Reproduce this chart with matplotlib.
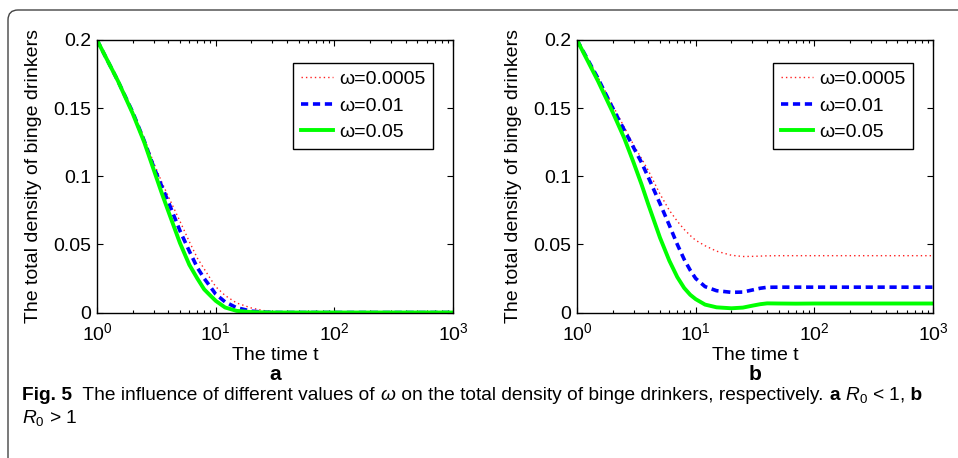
import matplotlib
matplotlib.use("Agg")
import matplotlib.pyplot as plt
from matplotlib.patches import FancyBboxPatch
from matplotlib.ticker import LogLocator, NullFormatter

plt.rcParams['font.family'] = ['Liberation Sans', 'DejaVu Sans']
plt.rcParams['mathtext.fontset'] = 'custom'
plt.rcParams['mathtext.rm'] = 'Liberation Sans'
plt.rcParams['mathtext.it'] = 'Liberation Sans:italic'
plt.rcParams['mathtext.bf'] = 'Liberation Sans:bold'

# time points (log axis)
t = [1, 1.5, 2, 2.5, 3, 3.5, 4, 5, 6, 7, 8, 9, 10, 12, 15, 20, 25, 30, 35, 40, 50, 70,
     100, 200, 500, 1000]

# panel a: R0 < 1
a_w0005 = [0.200, 0.171, 0.148, 0.128, 0.110, 0.096, 0.085, 0.067, 0.052, 0.040,
           0.032, 0.025, 0.019, 0.0125, 0.007, 0.0033, 0.0015, 0.0006, 0.0003, 0.0001,
           0, 0, 0, 0, 0, 0]
a_w001 = [0.200, 0.170, 0.147, 0.126, 0.107, 0.093, 0.081, 0.060, 0.045, 0.033,
          0.025, 0.019, 0.0135, 0.0078, 0.0035, 0.0010, 0.0003, 0.0001, 0, 0,
          0, 0, 0, 0, 0, 0]
a_w005 = [0.200, 0.170, 0.146, 0.125, 0.105, 0.088, 0.074, 0.051, 0.035, 0.025,
          0.017, 0.0125, 0.0086, 0.0037, 0.0012, 0.0003, 0.0001, 0, 0, 0,
          0, 0, 0, 0, 0, 0]

# panel b: R0 > 1
b_w0005 = [0.200, 0.173, 0.152, 0.136, 0.123, 0.113, 0.104, 0.087, 0.075, 0.067,
           0.061, 0.0565, 0.053, 0.049, 0.045, 0.042, 0.0411, 0.0412, 0.0414, 0.0416,
           0.0417, 0.0417, 0.0417, 0.0417, 0.0417, 0.0417]
b_w001 = [0.200, 0.172, 0.150, 0.134, 0.121, 0.110, 0.099, 0.080, 0.064, 0.050,
          0.039, 0.031, 0.025, 0.019, 0.016, 0.0148, 0.015, 0.0165, 0.0178, 0.0185,
          0.0186, 0.0186, 0.0186, 0.0186, 0.0186, 0.0186]
b_w005 = [0.200, 0.170, 0.147, 0.128, 0.110, 0.094, 0.079, 0.055, 0.038, 0.026,
          0.018, 0.013, 0.0098, 0.0058, 0.0038, 0.0031, 0.0036, 0.0050, 0.0061, 0.0067,
          0.0066, 0.0065, 0.0066, 0.0066, 0.0066, 0.0066]

labels = ["ω=0.0005", "ω=0.01", "ω=0.05"]
yticks = [0, 0.05, 0.1, 0.15, 0.2]
ytick_labels = ["0", "0.05", "0.1", "0.15", "0.2"]
panel_names = ["a", "b"]

W, H = 958, 458
fig = plt.figure(figsize=(W / 100, H / 100), dpi=100)

# rounded frame around the figure
frame = FancyBboxPatch((0.08, -1.0), 10.0, 4.48 + 1.0,
                       boxstyle="round,pad=0,rounding_size=0.1",
                       transform=fig.dpi_scale_trans, facecolor="none",
                       edgecolor="#444444", linewidth=1.0)
fig.add_artist(frame)


def draw_panel(left_px, series, name):
    ax = fig.add_axes([left_px / W, 1 - 312.5 / H, 356 / W, 272.5 / H])
    s1, s2, s3 = series
    ax.plot(t, s1, color="#ff2020", lw=1.0, dashes=(1, 2.2), label=labels[0])
    ax.plot(t, s2, color="blue", lw=2.6, dashes=(2, 1.3), label=labels[1])
    ax.plot(t, s3, color="#00ff00", lw=2.8, label=labels[2])
    ax.set_xscale("log")
    ax.set_xlim(1, 1000)
    ax.set_ylim(0, 0.2)
    ax.set_yticks(yticks)
    ax.set_yticklabels(ytick_labels)
    ax.xaxis.set_minor_locator(LogLocator(base=10, subs=range(2, 10), numticks=20))
    ax.xaxis.set_minor_formatter(NullFormatter())
    ax.tick_params(which="both", direction="in", top=True, right=True,
                   labelsize=14, width=0.8)
    ax.tick_params(which="major", length=4, pad=4)
    ax.tick_params(which="minor", length=2.2)
    ax.tick_params(axis="x", which="major", pad=7)
    for sp in ax.spines.values():
        sp.set_linewidth(1.0)
    ax.set_xlabel("The time t", fontsize=14, labelpad=2)
    ax.set_ylabel("The total density of binge drinkers", fontsize=14)
    ax.yaxis.set_label_coords(-0.155, 0.5)
    leg = ax.legend(loc="upper right", bbox_to_anchor=(0.944, 0.916),
                    borderaxespad=0, fancybox=False, framealpha=1,
                    edgecolor="black", fontsize=14, handlelength=1.65,
                    handletextpad=0.3, labelspacing=0.45, borderpad=0.4)
    leg.get_frame().set_linewidth(1.0)
    fig.text((left_px + 178) / W, 1 - 374 / H, name, fontsize=15,
             fontweight="bold", ha="center", va="center")
    return ax


draw_panel(97, (a_w0005, a_w001, a_w005), panel_names[0])
draw_panel(577, (b_w0005, b_w001, b_w005), panel_names[1])

# caption, written piece by piece
renderer = fig.canvas.get_renderer()


def put_line(x_px, y_px, pieces):
    x = x_px / W
    for s, bold in pieces:
        txt = fig.text(x, 1 - y_px / H, s, fontsize=13.8,
                       fontweight="bold" if bold else "normal", va="baseline")
        bb = txt.get_window_extent(renderer)
        x += bb.width / W


put_line(22, 400, [("Fig. 5", True),
                   ("  The influence of different values of ", False),
                   (r"$\omega$", False),
                   (" on the total density of binge drinkers, respectively. ", False),
                   ("a", True), (r" $R_0$ < 1,", False), (" b", True)])
put_line(22, 423, [(r"$R_0$ > 1", False)])

fig.savefig("out.png", dpi=100)
